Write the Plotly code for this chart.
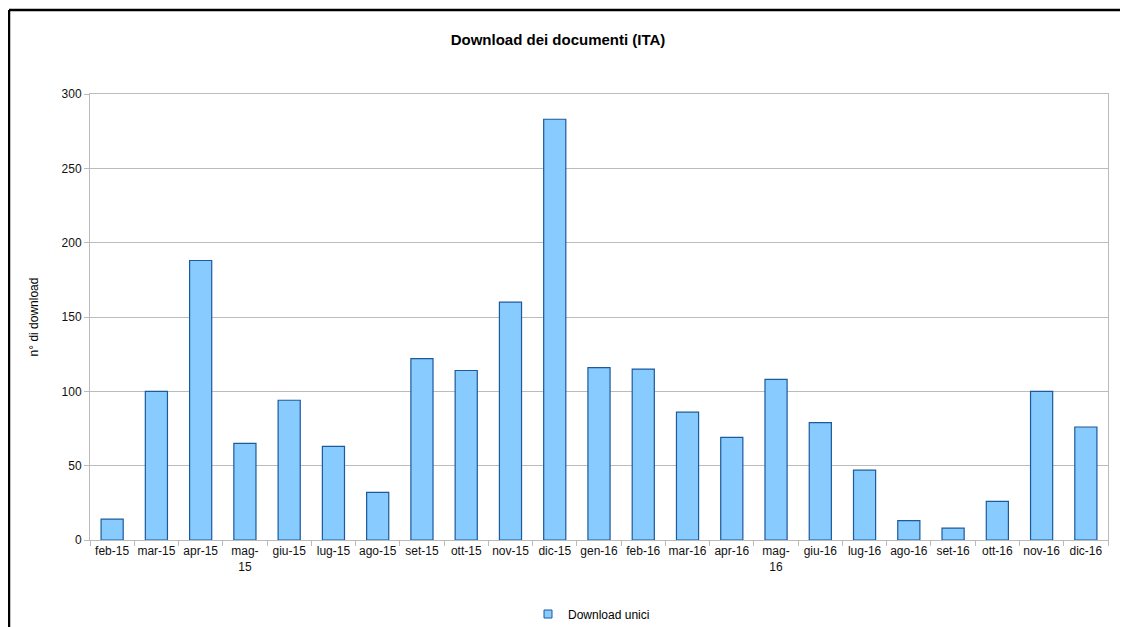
import plotly.graph_objects as go

categories = ["feb-15", "mar-15", "apr-15", "mag-15", "giu-15", "lug-15", "ago-15",
              "set-15", "ott-15", "nov-15", "dic-15", "gen-16", "feb-16", "mar-16",
              "apr-16", "mag-16", "giu-16", "lug-16", "ago-16", "set-16", "ott-16",
              "nov-16", "dic-16"]
tick_labels = ["feb-15", "mar-15", "apr-15", "mag-<br>15", "giu-15", "lug-15", "ago-15",
               "set-15", "ott-15", "nov-15", "dic-15", "gen-16", "feb-16", "mar-16",
               "apr-16", "mag-<br>16", "giu-16", "lug-16", "ago-16", "set-16", "ott-16",
               "nov-16", "dic-16"]
downloads = [14, 100, 188, 65, 94, 63, 32, 122, 114, 160, 283, 116, 115, 86,
             69, 108, 79, 47, 13, 8, 26, 100, 76]
y_ticks = [0, 50, 100, 150, 200, 250, 300]

FONT = "Liberation Sans, Arial, sans-serif"
BAR_FILL = "#87CBFF"
BAR_LINE = "#1D5A9C"

fig = go.Figure()
fig.add_trace(go.Bar(
    x=categories, y=downloads, name="Download unici", showlegend=False,
    marker=dict(color=BAR_FILL, line=dict(color=BAR_LINE, width=1.2)),
    width=0.5,
))
# legend entry with a small square swatch
fig.add_trace(go.Scatter(
    x=[None], y=[None], mode="markers", name="Download unici", showlegend=True,
    marker=dict(symbol="square", size=8, color=BAR_FILL, line=dict(color=BAR_LINE, width=1)),
))

W, H = 1120, 619
L, R, T, B = 82, 20, 86, 87
PW, PH = W - L - R, H - T - B

fig.update_layout(
    width=W, height=H,
    paper_bgcolor="white", plot_bgcolor="white",
    margin=dict(l=L, r=R, t=T, b=B, autoexpand=False),
    font=dict(family=FONT, size=12, color="#111"),
    title=dict(text="<b>Download dei documenti (ITA)</b>", xref="paper",
               x=(558 - 90) / PW, xanchor="center",
               y=1 - 32 / H, yanchor="middle", font=dict(size=15, color="#000")),
    showlegend=True,
    legend=dict(orientation="h", xref="container", yref="container",
                x=(528 - 8) / W, xanchor="left",
                y=1 - (614 - 8) / H, yanchor="middle",
                font=dict(size=12, color="#000"), itemwidth=30),
    bargap=0.5,
)
fig.update_xaxes(
    type="category", tickvals=categories, ticktext=tick_labels, tickangle=0,
    automargin=False,
    showline=True, linecolor="#BBBBBB", linewidth=1, mirror=True,
    ticks="outside", tickson="boundaries", ticklen=5, tickcolor="#BBBBBB",
    showgrid=False, tickfont=dict(size=12, color="#111"),
)
fig.update_yaxes(
    range=[0, 300], tickvals=y_ticks, automargin=False,
    showline=True, linecolor="#BBBBBB", linewidth=1, mirror=True,
    ticks="outside", ticklen=5, tickcolor="#BBBBBB",
    showgrid=True, gridcolor="#BBBBBB", gridwidth=1, zeroline=False,
    tickfont=dict(size=12, color="#111"),
    title=dict(text="n° di download", font=dict(size=12, color="#000"), standoff=20),
)

# outer chart border (top and left edges are inside the frame)
bx = -(90 - 9) / PW
by = 1 + (94 - 10) / PH
fig.add_shape(type="line", xref="paper", yref="paper",
              x0=bx, x1=1.05, y0=by, y1=by, line=dict(color="#000", width=2.5))
fig.add_shape(type="line", xref="paper", yref="paper",
              x0=bx, x1=bx, y0=-0.3, y1=by, line=dict(color="#000", width=2.5))

fig.write_html("out.html")
